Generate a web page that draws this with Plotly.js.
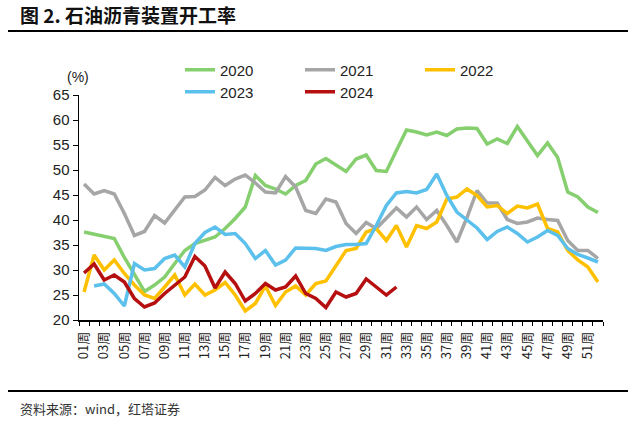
<!DOCTYPE html>
<html>
<head>
<meta charset="utf-8">
<script src="https://cdn.plot.ly/plotly-3.0.1.min.js"></script>
<style>html,body{margin:0;padding:0;background:#fff;}#chart{width:640px;height:423px;}</style>
</head>
<body>
<div id="chart"></div>
<script>
// ---- data ----
const weeks = [];
for (let i = 1; i <= 52; i++) weeks.push((i < 10 ? '0' + i : '' + i) + '周');

const y2020 = [37.6,37.2,36.8,36.3,32.5,29.0,25.7,27.0,28.6,31.3,33.9,35.3,36.0,36.6,38.3,40.3,42.6,48.9,46.9,46.2,45.2,46.9,47.9,51.2,52.3,51.0,49.7,52.2,53.0,49.9,49.7,53.9,58.0,57.6,57.0,57.6,56.9,58.2,58.4,58.3,55.2,56.2,55.3,58.7,55.9,52.9,55.4,52.5,45.6,44.6,42.6,41.5];
const y2021 = [47.2,45.2,45.9,45.2,41.3,36.9,37.7,40.9,39.4,41.9,44.6,44.7,46.0,48.5,46.9,48.2,49.0,47.4,45.6,45.4,48.7,46.6,41.9,41.3,44.2,43.6,39.3,37.3,39.5,38.3,40.3,42.4,40.6,42.6,40.1,41.9,38.9,35.6,40.5,45.9,43.4,43.4,40.1,39.3,39.6,40.4,40.1,39.9,35.9,33.9,33.9,32.3];
const y2022 = [25.6,33.0,30.0,32.0,29.3,27.0,25.0,24.3,26.6,29.0,25.0,27.2,25.0,26.0,27.5,25.0,21.8,23.3,26.8,22.9,25.6,26.8,25.0,27.3,27.8,31.0,33.9,34.3,37.6,38.3,35.9,38.9,34.6,38.9,38.3,39.6,44.2,44.6,46.2,44.9,42.6,42.9,41.3,42.8,42.4,43.2,38.3,37.6,33.9,32.0,30.6,27.6];
const y2023 = [null,26.8,27.2,25.3,22.8,31.3,30.0,30.3,32.3,33.0,30.6,35.3,37.5,38.6,37.1,37.3,35.3,32.3,33.9,31.0,32.0,34.4,34.4,34.3,33.9,34.7,35.1,35.1,35.3,38.9,42.9,45.4,45.7,45.4,46.1,49.2,44.9,41.6,40.0,38.4,36.1,37.7,38.6,37.3,35.6,36.6,37.9,36.9,34.3,33.1,32.4,31.6];
const y2024 = [29.4,31.2,28.0,29.0,27.6,24.3,22.6,23.4,25.3,27.0,28.6,32.7,30.8,26.4,29.6,27.3,23.8,25.3,27.3,26.0,26.6,28.8,25.3,24.3,22.5,25.6,24.6,25.3,28.2,26.6,25.0,26.6];

const seriesNames = ['2020','2021','2022','2023','2024'];
const seriesData = [y2020, y2021, y2022, y2023, y2024];
const seriesColors = ['#86CF6E','#A6A6A6','#FFC000','#5BC0EB','#B50F0F'];

const tickText = weeks.map((w, i) => (i % 2 === 0 ? w : ''));
const yTicks = [20,25,30,35,40,45,50,55,60,65];

// ---- layout geometry ----
const W = 640, H = 423;
const L = 79, R = 603, T = 95, B = 320;
const px2x = p => (p - L) / (R - L);
const px2y = p => (B - p) / (B - T);

// legend entry positions (pixel) : one legend per entry
const legendPos = [[180, 70], [300, 70], [420, 70], [180, 92], [300, 92]];
const legendIds = ['legend', 'legend2', 'legend3', 'legend4', 'legend5'];

const traces = seriesNames.map((n, k) => ({
  type: 'scatter', mode: 'lines', name: n,
  x: weeks.slice(0, seriesData[k].length), y: seriesData[k],
  line: {color: seriesColors[k], width: 3.5},
  connectgaps: false,
  legend: legendIds[k]
}));

const layout = {
  width: W, height: H,
  margin: {l: L, r: W - R, t: T, b: H - B, pad: 0},
  paper_bgcolor: '#fff', plot_bgcolor: '#fff',
  font: {family: 'Liberation Sans, Arial, sans-serif', size: 14, color: '#222'},
  title: {
    text: '<b>图 2. 石油沥青装置开工率</b>',
    font: {family: 'Noto Sans CJK SC, sans-serif', size: 19, color: '#111'},
    x: 20 / W, xref: 'container', xanchor: 'left',
    y: 1 - 16 / H, yref: 'container', yanchor: 'middle'
  },
  showlegend: true,
  xaxis: {
    type: 'category', categoryorder: 'array', categoryarray: weeks,
    range: [-0.5, 51.5],
    tickmode: 'array', tickvals: weeks, ticktext: tickText,
    tickson: 'boundaries', ticks: 'outside', ticklen: 4, tickwidth: 1, tickcolor: '#000',
    ticklabelstandoff: 5,
    tickangle: -90, tickfont: {family: 'Noto Sans CJK SC, sans-serif', size: 13, color: '#222'},
    showline: true, linecolor: '#000', linewidth: 1.5,
    showgrid: false, zeroline: false, fixedrange: true
  },
  yaxis: {
    range: [20, 65], tickmode: 'array', tickvals: yTicks,
    ticks: 'outside', ticklen: 5, tickwidth: 1, tickcolor: '#000',
    tickfont: {family: 'Liberation Sans, Arial, sans-serif', size: 15, color: '#222'},
    showline: true, linecolor: '#000', linewidth: 1.5,
    showgrid: false, zeroline: false, fixedrange: true
  },
  shapes: [
    {type: 'line', xref: 'paper', yref: 'paper', x0: px2x(8), x1: px2x(628), y0: px2y(31), y1: px2y(31), line: {color: '#000', width: 2}},
    {type: 'line', xref: 'paper', yref: 'paper', x0: px2x(8), x1: px2x(628), y0: px2y(391), y1: px2y(391), line: {color: '#000', width: 2}}
  ],
  annotations: [
    {text: '(%)', xref: 'paper', yref: 'paper', x: px2x(78), y: px2y(77), xanchor: 'center', yanchor: 'middle', showarrow: false,
     font: {family: 'Liberation Sans, Arial, sans-serif', size: 14, color: '#222'}},
    {text: '资料来源：wind，红塔证券', xref: 'paper', yref: 'paper', x: px2x(18), y: px2y(408), xanchor: 'left', yanchor: 'middle', showarrow: false,
     font: {family: 'Noto Sans CJK SC, sans-serif', size: 13, color: '#333'}}
  ]
};

legendIds.forEach((id, k) => {
  layout[id] = {
    orientation: 'h', x: px2x(legendPos[k][0]), y: px2y(legendPos[k][1]),
    xanchor: 'left', yanchor: 'middle',
    font: {family: 'Liberation Sans, Arial, sans-serif', size: 15, color: '#222'},
    bgcolor: 'rgba(0,0,0,0)', borderwidth: 0
  };
});

Plotly.newPlot('chart', traces, layout, {displayModeBar: false, staticPlot: true});
</script>
</body>
</html>
